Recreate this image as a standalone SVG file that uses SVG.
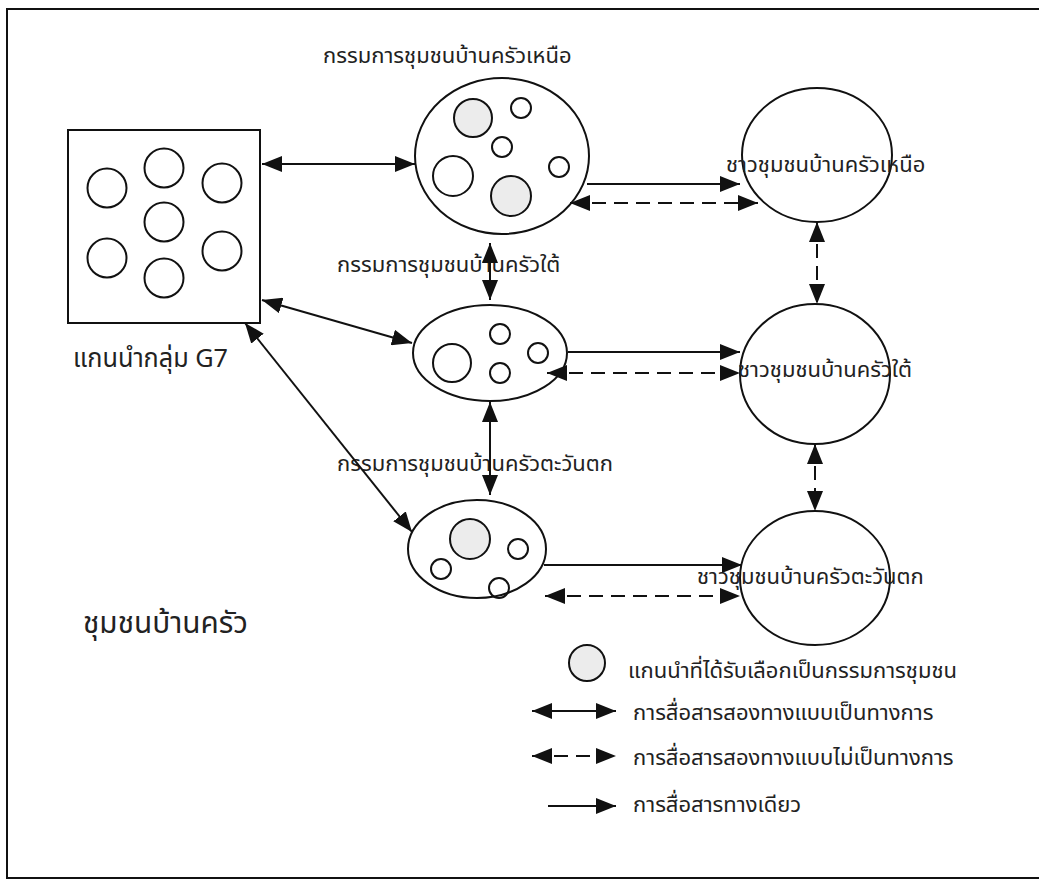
<svg xmlns="http://www.w3.org/2000/svg" width="1039" height="881" viewBox="0 0 1039 881">
<style>
.o{fill:#fff;stroke:#111;stroke-width:2}
.c{fill:none;stroke:#111;stroke-width:2}
.s{fill:#ececec;stroke:#111;stroke-width:2}
.t{font-family:"Noto Sans Thai","Noto Sans","DejaVu Sans",sans-serif;font-size:22px;fill:#222}
.e{stroke:#111;stroke-width:2;fill:none}
.d{stroke:#111;stroke-width:2;fill:none;stroke-dasharray:14 8}
</style>
<defs>
<marker id="ah" viewBox="0 0 20 16" refX="20" refY="8" markerWidth="20" markerHeight="16" orient="auto-start-reverse" markerUnits="userSpaceOnUse"><path d="M0,0 L20,8 L0,16 z" fill="#111"/></marker>
</defs>
<rect x="7" y="9" width="1040" height="869" fill="#fff" stroke="#111" stroke-width="2"/>
<g id="g7">
<rect x="68" y="130" width="192" height="193" class="o"/>
<circle cx="107" cy="188" r="19.5" class="c"/>
<circle cx="164" cy="168" r="19.5" class="c"/>
<circle cx="222" cy="183" r="19.5" class="c"/>
<circle cx="164" cy="222" r="19.5" class="c"/>
<circle cx="107" cy="258" r="19.5" class="c"/>
<circle cx="164" cy="278" r="19.5" class="c"/>
<circle cx="222" cy="251" r="19.5" class="c"/>
<text x="73" y="367" class="t" style="font-size:26px" textLength="155" lengthAdjust="spacingAndGlyphs">แกนนำกลุ่ม G7</text>
</g>
<g id="north-committee">
<text x="323" y="63" class="t">กรรมการชุมชนบ้านครัวเหนือ</text>
<ellipse cx="502" cy="156" rx="87" ry="78" class="o"/>
<circle cx="473" cy="118" r="19" class="s"/>
<circle cx="521" cy="108" r="10" class="c"/>
<circle cx="502" cy="147" r="10" class="c"/>
<circle cx="453" cy="176" r="20" class="c"/>
<circle cx="559" cy="167" r="10" class="c"/>
<circle cx="511" cy="196" r="20" class="s"/>
</g>
<g id="south-committee">
<text x="337" y="272" class="t">กรรมการชุมชนบ้านครัวใต้</text>
<ellipse cx="490" cy="353" rx="77" ry="48" class="o"/>
<circle cx="452" cy="363" r="19" class="c"/>
<circle cx="500" cy="334" r="10" class="c"/>
<circle cx="500" cy="373" r="10" class="c"/>
<circle cx="538" cy="353" r="10" class="c"/>
</g>
<g id="west-committee">
<text x="337" y="471" class="t">กรรมการชุมชนบ้านครัวตะวันตก</text>
<ellipse cx="477" cy="549" rx="69" ry="49" class="o"/>
<circle cx="470" cy="539" r="20" class="s"/>
<circle cx="518" cy="549" r="10" class="c"/>
<circle cx="441" cy="569" r="10" class="c"/>
<circle cx="499" cy="588" r="10" class="c"/>
</g>
<g id="north-villagers">
<ellipse cx="817" cy="155" rx="75" ry="67" class="o"/>
<text x="726" y="172" class="t">ชาวชุมชนบ้านครัวเหนือ</text>
</g>
<g id="south-villagers">
<ellipse cx="815" cy="374" rx="75" ry="70" class="o"/>
<text x="738" y="377" class="t">ชาวชุมชนบ้านครัวใต้</text>
</g>
<g id="west-villagers">
<ellipse cx="815" cy="578" rx="75" ry="67" class="o"/>
<text x="697" y="584" class="t">ชาวชุมชนบ้านครัวตะวันตก</text>
</g>
<g id="connectors">
<line x1="262" y1="164" x2="415" y2="164" class="e" marker-start="url(#ah)" marker-end="url(#ah)"/>
<line x1="262" y1="300" x2="412" y2="343" class="e" marker-start="url(#ah)" marker-end="url(#ah)"/>
<line x1="245" y1="323" x2="412" y2="532" class="e" marker-start="url(#ah)" marker-end="url(#ah)"/>
<line x1="490" y1="243" x2="490" y2="300" class="e" marker-start="url(#ah)" marker-end="url(#ah)"/>
<line x1="490" y1="402" x2="490" y2="495" class="e" marker-start="url(#ah)" marker-end="url(#ah)"/>
<line x1="587" y1="184" x2="740" y2="184" class="e" marker-end="url(#ah)"/>
<line x1="570" y1="203" x2="758" y2="203" class="d" marker-start="url(#ah)" marker-end="url(#ah)"/>
<line x1="568" y1="352" x2="740" y2="352" class="e" marker-end="url(#ah)"/>
<line x1="547" y1="373" x2="740" y2="373" class="d" marker-start="url(#ah)" marker-end="url(#ah)"/>
<line x1="544" y1="565" x2="742" y2="565" class="e" marker-end="url(#ah)"/>
<line x1="545" y1="596" x2="740" y2="596" class="d" marker-start="url(#ah)" marker-end="url(#ah)"/>
<line x1="817" y1="222" x2="817" y2="304" class="d" marker-start="url(#ah)" marker-end="url(#ah)"/>
<line x1="815" y1="444" x2="815" y2="511" class="d" marker-start="url(#ah)" marker-end="url(#ah)"/>
</g>
<g id="title">
<text x="83" y="633" class="t" style="font-size:31px" textLength="165" lengthAdjust="spacingAndGlyphs">ชุมชนบ้านครัว</text>
</g>
<g id="legend">
<circle cx="587" cy="663" r="18" class="s"/>
<text x="628" y="678" class="t">แกนนำที่ได้รับเลือกเป็นกรรมการชุมชน</text>
<line x1="532" y1="711" x2="616" y2="711" class="e" marker-start="url(#ah)" marker-end="url(#ah)"/>
<text x="633" y="720" class="t">การสื่อสารสองทางแบบเป็นทางการ</text>
<line x1="532" y1="756" x2="616" y2="756" class="d" marker-start="url(#ah)" marker-end="url(#ah)"/>
<text x="633" y="765" class="t">การสื่อสารสองทางแบบไม่เป็นทางการ</text>
<line x1="548" y1="806" x2="616" y2="806" class="e" marker-end="url(#ah)"/>
<text x="633" y="812" class="t">การสื่อสารทางเดียว</text>
</g>
</svg>
